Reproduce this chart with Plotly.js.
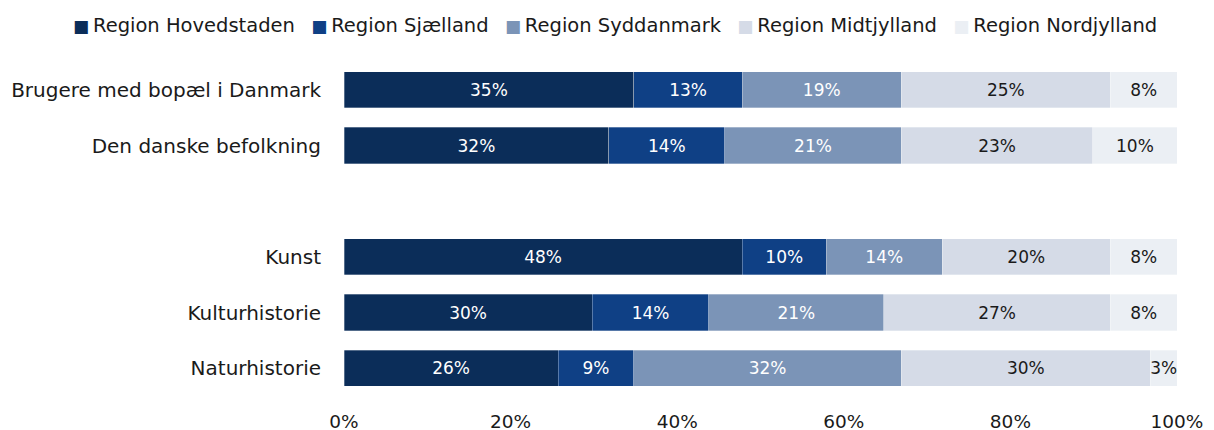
<!DOCTYPE html>
<html>
<head>
<meta charset="utf-8">
<script src="https://cdn.plot.ly/plotly-3.0.1.min.js"></script>
<style>html,body{margin:0;padding:0;background:#fff;}#chart{width:1214px;height:430px;}</style>
</head>
<body>
<div id="chart"></div>
<script>
const categories = ["Brugere med bopæl i Danmark", "Den danske befolkning", " ", "Kunst", "Kulturhistorie", "Naturhistorie"];
const seriesNames = ["Region Hovedstaden", "Region Sjælland", "Region Syddanmark", "Region Midtjylland", "Region Nordjylland"];
const hovedstaden = [34.8, 31.8, null, 47.8, 29.8, 25.7];
const sjaelland   = [13.0, 13.9, null, 10.1, 14.0, 9.1];
const syddanmark  = [19.1, 21.2, null, 13.9, 21.0, 32.1];
const midtjylland = [25.1, 23.0, null, 20.2, 27.2, 29.9];
const nordjylland = [8.0, 10.1, null, 8.0, 8.0, 3.2];
const tickVals = [0, 20, 40, 60, 80, 100];
const tickText = ["0%", "20%", "40%", "60%", "80%", "100%"];

const seriesValues = [hovedstaden, sjaelland, syddanmark, midtjylland, nordjylland];
const colors = ["#0b2d59", "#0f4085", "#7b94b7", "#d5dbe7", "#ebeff4"];
const textColors = ["#ffffff", "#ffffff", "#ffffff", "#1a1a1a", "#1a1a1a"];
const FONT = "'DejaVu Sans', sans-serif";

const traces = seriesNames.map((name, i) => ({
  type: "bar",
  orientation: "h",
  name: name,
  y: categories,
  x: seriesValues[i],
  text: seriesValues[i].map(v => v == null ? "" : Math.round(v) + "%"),
  textposition: "inside",
  insidetextanchor: "middle",
  textangle: 0,
  constraintext: "none",
  textfont: {family: FONT, size: 17, color: textColors[i]},
  marker: {color: colors[i], line: {color: "rgba(255,255,255,0.6)", width: 0.5}},
  hoverinfo: "x+y+name",
  showlegend: false
}));

// legend drawn as one centred text row built from the series names and colours
const legendText = seriesNames.map((n, i) =>
  '<span style="color:' + colors[i] + ';font-size:17px">■</span>\u2009' + n
).join('\u00a0\u00a0\u2009');

const plotTop = 62, plotBottom = 396;
const layout = {
  width: 1214, height: 430,
  barmode: "stack",
  bargap: 0.35,
  margin: {l: 344, r: 37, t: plotTop, b: 430 - plotBottom},
  paper_bgcolor: "#fff", plot_bgcolor: "#fff",
  font: {family: FONT, size: 18.5, color: "#1a1a1a"},
  showlegend: false,
  annotations: [{
    xref: "paper", yref: "paper",
    x: (615 - 344) / 833, xanchor: "center",
    y: (plotBottom - 25) / (plotBottom - plotTop), yanchor: "middle",
    showarrow: false,
    text: legendText,
    font: {family: FONT, size: 19.5, color: "#1a1a1a"}
  }],
  xaxis: {
    range: [0, 100],
    tickvals: tickVals, ticktext: tickText,
    showgrid: false, zeroline: false, showline: false,
    ticks: "", ticklabelstandoff: 12,
    tickfont: {family: FONT, size: 18.5, color: "#1a1a1a"},
    fixedrange: true
  },
  yaxis: {
    type: "category",
    categoryorder: "array", categoryarray: categories,
    autorange: "reversed",
    showgrid: false, zeroline: false, showline: false,
    ticks: "", ticklabelstandoff: 22,
    tickfont: {family: FONT, size: 20, color: "#1a1a1a"},
    fixedrange: true
  }
};

Plotly.newPlot("chart", traces, layout, {displayModeBar: false, staticPlot: true});
</script>
</body>
</html>
